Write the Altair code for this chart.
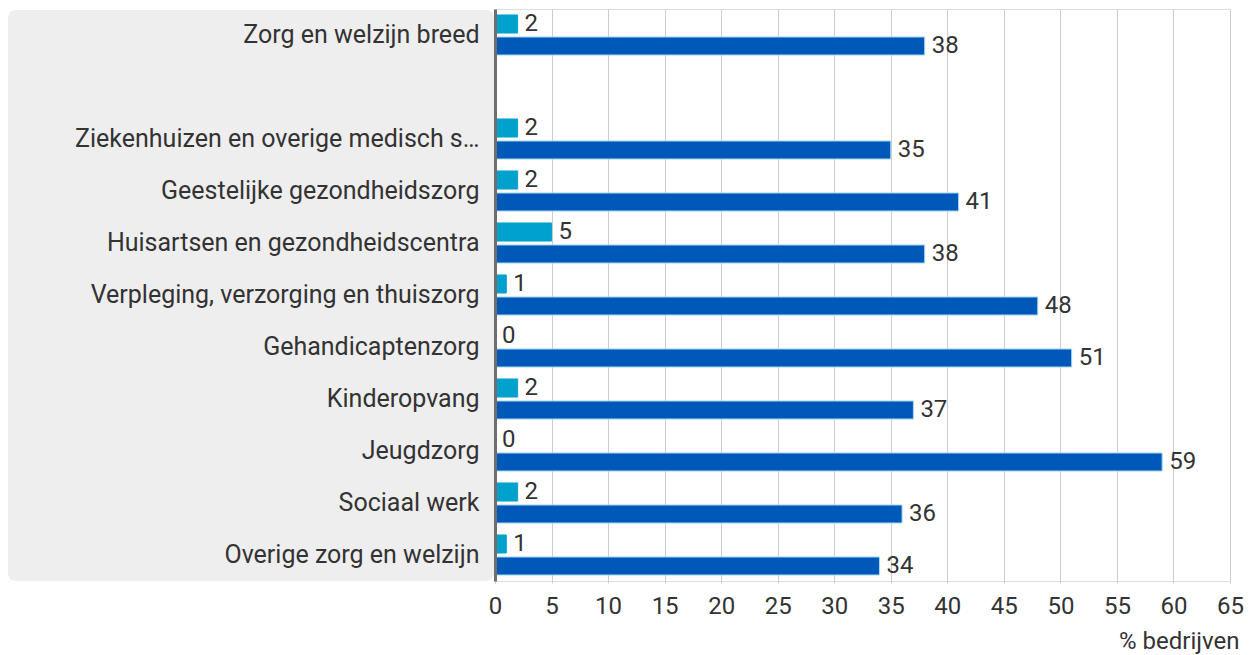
import altair as alt
import pandas as pd

categories = [
    "Zorg en welzijn breed",
    " ",
    "Ziekenhuizen en overige medisch s…",
    "Geestelijke gezondheidszorg",
    "Huisartsen en gezondheidscentra",
    "Verpleging, verzorging en thuiszorg",
    "Gehandicaptenzorg",
    "Kinderopvang",
    "Jeugdzorg",
    "Sociaal werk",
    "Overige zorg en welzijn",
]
data_categories = [c for c in categories if c.strip()]
series = ["Serie 1", "Serie 2"]
values_light = [2, 2, 2, 5, 1, 0, 2, 0, 2, 1]
values_dark = [38, 35, 41, 38, 48, 51, 37, 59, 36, 34]
x_ticks = list(range(0, 70, 5))

rows = []
for c, a, b in zip(data_categories, values_light, values_dark):
    rows.append({"cat": c, "serie": series[0], "waarde": a})
    rows.append({"cat": c, "serie": series[1], "waarde": b})
df = pd.DataFrame(rows)

FONT = "Roboto"
TXT = "#333333"
W, H = 735, 572
EXT = 487

y_enc = alt.Y(
    "cat:N",
    sort=None,
    scale=alt.Scale(domain=categories, paddingInner=0.23, paddingOuter=0.115),
    axis=alt.Axis(
        title=None,
        labelFont=FONT,
        labelFontSize=25,
        labelColor=TXT,
        labelPadding=16,
        labelLimit=470,
        ticks=False,
        domain=True,
        domainColor="#6e6e6e",
        domainWidth=3,
        minExtent=EXT,
        maxExtent=EXT,
        grid=False,
        zindex=2,
    ),
)
yoff = alt.YOffset("serie:N", scale=alt.Scale(domain=series, paddingInner=0.18))

x_enc = alt.X(
    "waarde:Q",
    scale=alt.Scale(domain=[0, 65], nice=False),
    axis=alt.Axis(
        values=x_ticks,
        title="% bedrijven",
        titleFont=FONT,
        titleFontSize=24,
        titleFontWeight="normal",
        titleColor=TXT,
        titleAnchor="end",
        titleAlign="right",
        titleX=744,
        titleY=67,
        titleBaseline="alphabetic",
        labelFont=FONT,
        labelFontSize=24,
        labelColor=TXT,
        labelPadding=11,
        labelFlush=False,
        labelOverlap=False,
        grid=True,
        gridColor="#cccccc",
        gridWidth=1,
        ticks=True,
        tickColor="#cccccc",
        tickSize=2,
        domain=False,
    ),
)

panel = alt.Chart(alt.Data(values=[{"p": 1}])).mark_rect(
    color="#eeeeee", cornerRadius=8
).encode(
    x=alt.value(-EXT), x2=alt.value(-1), y=alt.value(1), y2=alt.value(H)
)

bars = alt.Chart(df).mark_bar(strokeWidth=1).encode(
    y=y_enc,
    yOffset=yoff,
    x=x_enc,
    color=alt.Color("serie:N", scale=alt.Scale(domain=series, range=["#00a1cd", "#0058b8"]), legend=None),
    stroke=alt.Stroke("serie:N", scale=alt.Scale(domain=series, range=["#00a1cd", "#a6d9f2"]), legend=None),
)

labels = alt.Chart(df).mark_text(
    align="left", baseline="middle", dx=7, font=FONT, fontSize=24, color=TXT
).encode(
    y=alt.Y("cat:N", sort=None, scale=alt.Scale(domain=categories)),
    yOffset=yoff,
    x=alt.X("waarde:Q"),
    text=alt.Text("waarde:Q"),
)

chart = alt.layer(panel, bars, labels).properties(
    width=W,
    height=H,
    padding={"left": 0, "top": 1, "right": 0, "bottom": 5},
).configure_view(stroke=None).configure(background="white")

chart.save("out.html", embed_options={"renderer": "svg", "actions": False})
